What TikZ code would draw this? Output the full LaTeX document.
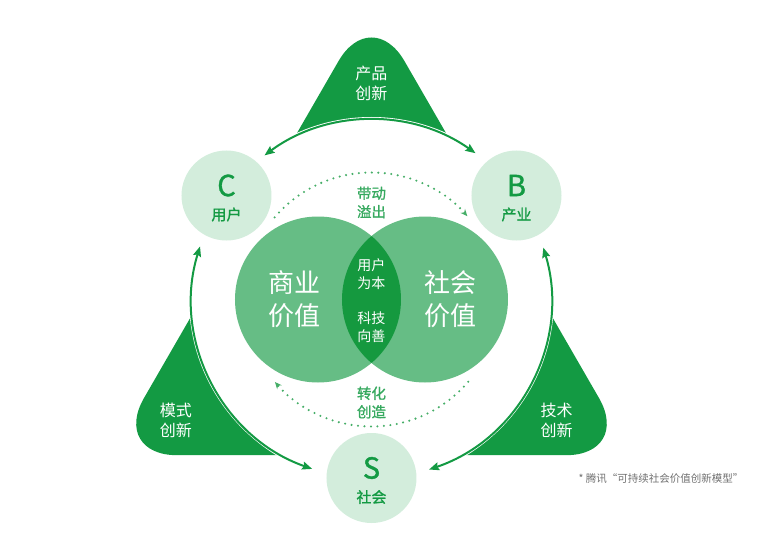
\documentclass[tikz,border=0pt]{standalone}
\usepackage{fontspec}
\setmainfont{Noto Sans CJK SC}
\newfontfamily\midcjk[FakeBold=1.2]{Noto Sans CJK SC}
\usetikzlibrary{arrows.meta}
\definecolor{leaf}{HTML}{139A43}
\definecolor{venn}{HTML}{66BD85}
\definecolor{lens}{HTML}{15993F}
\definecolor{pale}{HTML}{D3EDDC}
\definecolor{dots}{HTML}{45AE67}
\definecolor{note}{HTML}{707070}

\begin{document}
\begin{tikzpicture}[x=1pt,y=1pt,line cap=round,line join=round,
  ring/.style={draw=leaf,line width=2pt,{Stealth[length=10pt,width=8pt,inset=1.5pt]}-{Stealth[length=10pt,width=8pt,inset=1.5pt]}},
  dotarc/.style={draw=dots,line width=2.3pt,dash pattern=on 0pt off 6.5pt,-{Stealth[length=7pt,width=6pt]}},
  unitdisk/.style={circle,fill=pale,minimum size=90pt,inner sep=0pt},
  vennc/.style={circle,fill=venn,minimum size=166pt,inner sep=0pt},
  lettertxt/.style={text=leaf,font=\midcjk\fontsize{29}{29}\selectfont},
  unittxt/.style={text=leaf,font=\midcjk\fontsize{15}{18}\selectfont},
  cornertxt/.style={text=white,align=center,font=\fontsize{16}{20}\selectfont},
  bigtxt/.style={text=white,align=center,font=\fontsize{26}{33}\selectfont},
  lenstxt/.style={text=white,align=center,font=\fontsize{14}{18}\selectfont},
  flowtxt/.style={text=leaf!85!white,align=center,font=\midcjk\fontsize{14.5}{18.5}\selectfont}]
\path[use as bounding box] (-371.5,-236.5) rectangle (397.5,299.5);
\coordinate (O) at (0,0);
% green corners, hollowed by the ring
\fill[leaf,rounded corners=66pt] (0,295.5) -- (-260.5,-155.7) -- (260.5,-155.7) -- cycle;
\fill[white] (O) circle (182.5);
\draw[ring] ([shift={(126.6:179.5)}]O) arc[start angle=126.6,end angle=54.6,radius=179.5];
\draw[ring] ([shift={(162.8:179.5)}]O) arc[start angle=162.8,end angle=250.7,radius=179.5];
\draw[ring] ([shift={(-71.3:179.5)}]O) arc[start angle=-71.3,end angle=16.8,radius=179.5];
\node[cornertxt] (prod) at (0,216.5) {产品\\创新};
\node[cornertxt] (mode) at (-195.5,-120.5) {模式\\创新};
\node[cornertxt] (tech) at (185,-120.5) {技术\\创新};
% the three parties
\node[unitdisk] (C) at (-145,104) {};
\node[unitdisk] (B) at (145,104) {};
\node[unitdisk] (S) at (0,-178.5) {};
\node[lettertxt] (Cl) at ([yshift=10pt]C.center) {C};
\node[unittxt] (Ct) at ([yshift=-19pt]C.center) {用户};
\node[lettertxt] (Bl) at ([yshift=10pt]B.center) {B};
\node[unittxt] (Bt) at ([yshift=-19pt]B.center) {产业};
\node[lettertxt] (Sl) at ([yshift=10pt]S.center) {S};
\node[unittxt] (St) at ([yshift=-19pt]S.center) {社会};
% inner loop
\draw[dotarc] ([shift={(139.7:127)}]O) arc[start angle=139.7,end angle=41,radius=127];
\draw[dotarc] ([shift={(-40.4:127)}]O) arc[start angle=-40.4,end angle=-139.5,radius=127];
\node[flowtxt] (spill) at (0,97) {带动\\溢出};
\node[flowtxt] (turn) at (0,-103) {转化\\创造};
% values
\node[vennc] (biz) at (-53.5,0) {};
\node[vennc] (soc) at (53.5,0) {};
\begin{scope}
\clip (biz.center) circle (83);
\fill[lens] (soc.center) circle (83);
\end{scope}
\node[bigtxt] (bizt) at (-76.5,0) {商业\\价值};
\node[bigtxt] (soct) at (79.5,0) {社会\\价值};
\node[lenstxt] (user) at (0,25.5) {用户\\为本};
\node[lenstxt] (good) at (0,-28) {科技\\向善};
\node[text=note,font=\fontsize{10.5}{12}\selectfont] (src) at (289.5,-179.5) {* 腾讯“可持续社会价值创新模型”};
\end{tikzpicture}
\end{document}
